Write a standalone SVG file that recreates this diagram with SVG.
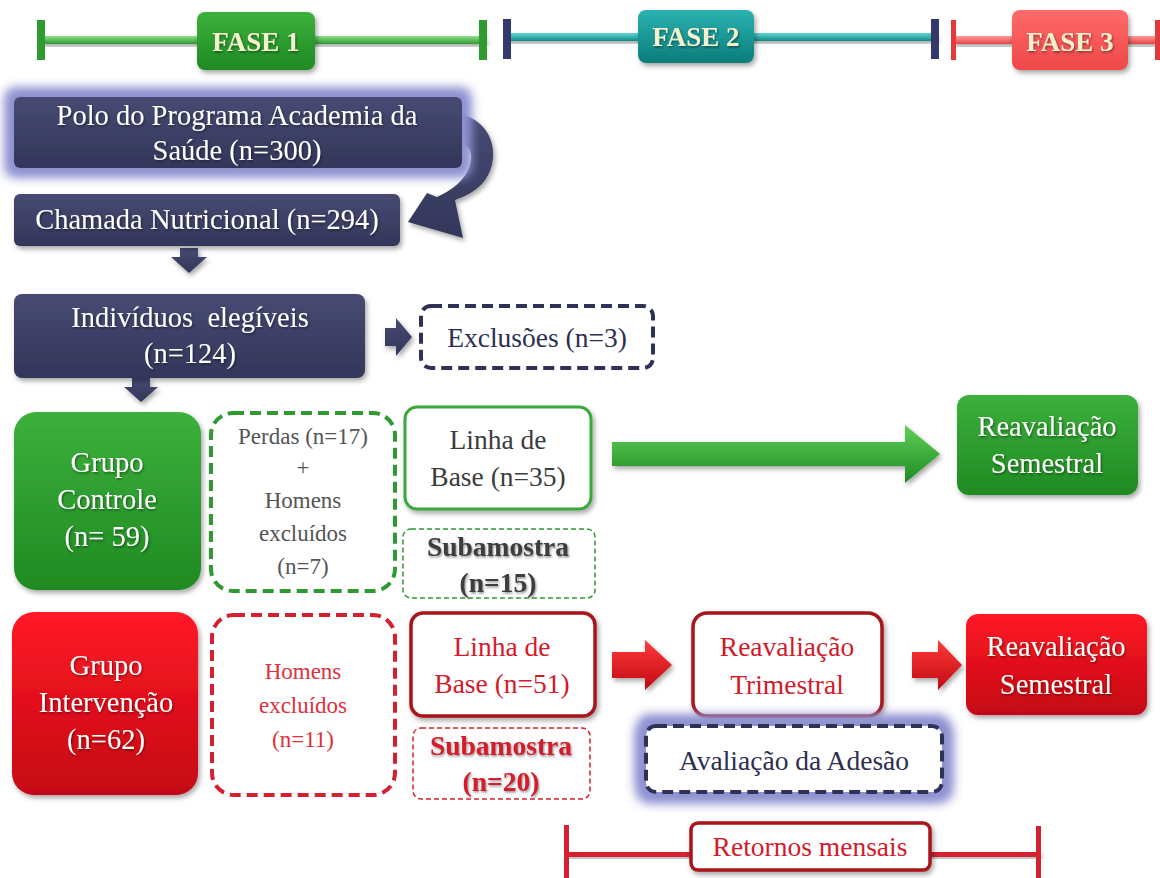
<svg xmlns="http://www.w3.org/2000/svg" width="1160" height="878" viewBox="0 0 1160 878">
<style>
text{font-family:"Liberation Serif","DejaVu Serif",serif;text-anchor:middle}
.w{fill:#ffffff;font-size:28.5px}
.ph{fill:#f4f1cf;font-size:27px;font-weight:bold}
.navytxt{fill:#2c2f52;font-size:27.5px}
.gray{fill:#555555;font-size:23px}
.dgray{fill:#3c3c3c;font-size:27.5px}
.redtxt{fill:#d41a2a;font-size:27.5px}
.redlt{fill:#e0303c;font-size:23px}
.sh{filter:url(#ds)}
</style>
<defs>
<filter id="ds" x="-20%" y="-20%" width="140%" height="150%"><feDropShadow dx="2" dy="3" stdDeviation="2.5" flood-color="#000" flood-opacity="0.35"/></filter>
<filter id="ts" x="-10%" y="-20%" width="120%" height="150%"><feDropShadow dx="1" dy="1.5" stdDeviation="1" flood-color="#000" flood-opacity="0.45"/></filter>
<filter id="glow" x="-20%" y="-50%" width="140%" height="200%"><feMorphology in="SourceAlpha" operator="dilate" radius="7" result="d"/><feGaussianBlur in="d" stdDeviation="6" result="b"/><feFlood flood-color="#8e91d0" flood-opacity="1"/><feComposite in2="b" operator="in" result="g"/><feMerge><feMergeNode in="g"/><feMergeNode in="g"/><feMergeNode in="SourceGraphic"/></feMerge></filter>
<linearGradient id="gNavy" x1="0" y1="0" x2="0" y2="1"><stop offset="0" stop-color="#474a73"/><stop offset="1" stop-color="#33365a"/></linearGradient>
<linearGradient id="gGreen" x1="0" y1="0" x2="0" y2="1"><stop offset="0" stop-color="#3cb03c"/><stop offset="1" stop-color="#1f8a22"/></linearGradient>
<linearGradient id="gRed" x1="0" y1="0" x2="0" y2="1"><stop offset="0" stop-color="#ff1a26"/><stop offset="1" stop-color="#c40612"/></linearGradient>
<linearGradient id="gTeal" x1="0" y1="0" x2="0" y2="1"><stop offset="0" stop-color="#2cb2b0"/><stop offset="1" stop-color="#0a7d7b"/></linearGradient>
<linearGradient id="gPink" x1="0" y1="0" x2="0" y2="1"><stop offset="0" stop-color="#ff6a6a"/><stop offset="1" stop-color="#f04848"/></linearGradient>
<linearGradient id="gGreenBar" x1="0" y1="0" x2="0" y2="1"><stop offset="0" stop-color="#8fe08a"/><stop offset="1" stop-color="#2e9a30"/></linearGradient>
<linearGradient id="gTealBar" x1="0" y1="0" x2="0" y2="1"><stop offset="0" stop-color="#5fd6d4"/><stop offset="1" stop-color="#0f8a88"/></linearGradient>
<linearGradient id="gRedBar" x1="0" y1="0" x2="0" y2="1"><stop offset="0" stop-color="#ff9a9a"/><stop offset="1" stop-color="#e84444"/></linearGradient>
<linearGradient id="gArrG" x1="0" y1="0" x2="0" y2="1"><stop offset="0" stop-color="#5fd05a"/><stop offset="1" stop-color="#1e8a20"/></linearGradient>
<linearGradient id="gArrR" x1="0" y1="0" x2="0" y2="1"><stop offset="0" stop-color="#ff3a3a"/><stop offset="1" stop-color="#c00a12"/></linearGradient>
</defs>
<rect width="1160" height="878" fill="#ffffff"/>

<!-- phase bars -->
<g id="fase1">
<rect x="40" y="36" width="445" height="8" fill="url(#gGreenBar)" class="sh"/>
<rect x="37" y="20" width="8" height="40" fill="#2e9a30"/>
<rect x="479" y="20" width="8" height="40" fill="#2e9a30"/>
<rect x="197" y="12" width="118" height="58" rx="8" fill="url(#gGreen)" class="sh"/>
<text x="256" y="51" class="ph" filter="url(#ts)">FASE 1</text>
</g>
<g id="fase2">
<rect x="506" y="33" width="430" height="8" fill="url(#gTealBar)" class="sh"/>
<rect x="503" y="19" width="8" height="40" fill="#35386a"/>
<rect x="931" y="19" width="8" height="40" fill="#35386a"/>
<rect x="638" y="10" width="116" height="53" rx="8" fill="url(#gTeal)" class="sh"/>
<text x="696" y="46" class="ph" filter="url(#ts)">FASE 2</text>
</g>
<g id="fase3">
<rect x="953" y="36" width="207" height="8" fill="url(#gRedBar)" class="sh"/>
<rect x="951" y="20" width="5" height="40" fill="#e03a3a"/>
<rect x="1155" y="20" width="5" height="40" fill="#e03a3a"/>
<rect x="1012" y="10" width="116" height="60" rx="8" fill="url(#gPink)" class="sh"/>
<text x="1070" y="51" class="ph" filter="url(#ts)">FASE 3</text>
</g>

<!-- connectors -->
<g id="connectors">
<path d="M 458 114 C 496 120, 502 162, 482 184 C 474 192, 466 196, 455 200 L 463 238 L 408 222 L 427 193 L 437 197 C 452 190, 466 180, 470 165 C 474 150, 468 144, 458 142 Z" fill="url(#gNavy)" class="sh"/>
<path d="M 180 248 L 198 248 L 198 257 L 207 257 L 189 273 L 171 257 L 180 257 Z" fill="url(#gNavy)" class="sh"/>
<path d="M 132 378 L 150 378 L 150 387 L 158 387 L 141 402 L 124 387 L 132 387 Z" fill="url(#gNavy)" class="sh"/>
<path d="M 385 328 L 396 328 L 396 318 L 412 337 L 396 356 L 396 346 L 385 346 Z" fill="url(#gNavy)" class="sh"/>
<path d="M 612 442 L 905 442 L 905 425 L 940 454 L 905 483 L 905 466 L 612 466 Z" fill="url(#gArrG)" class="sh"/>
<path d="M 612 652 L 645 652 L 645 640 L 672 665 L 645 690 L 645 678 L 612 678 Z" fill="url(#gArrR)" class="sh"/>
<path d="M 912 652 L 938 652 L 938 640 L 962 665 L 938 690 L 938 678 L 912 678 Z" fill="url(#gArrR)" class="sh"/>
</g>

<g id="polo">
<rect x="14" y="97" width="448" height="71" rx="6" fill="url(#gNavy)" filter="url(#glow)"/>
<text x="237" y="125" class="w" filter="url(#ts)">Polo do Programa Academia da</text>
<text x="237" y="160" class="w" filter="url(#ts)">Saúde (n=300)</text>
</g>
<g id="chamada">
<rect x="14" y="194" width="386" height="52" rx="6" fill="url(#gNavy)" class="sh"/>
<text x="207" y="229" class="w" filter="url(#ts)">Chamada Nutricional (n=294)</text>
</g>
<g id="elegiveis">
<rect x="14" y="294" width="351" height="84" rx="8" fill="url(#gNavy)" class="sh"/>
<text x="190" y="327" class="w" filter="url(#ts)" xml:space="preserve">Indivíduos  elegíveis</text>
<text x="190" y="363" class="w" filter="url(#ts)">(n=124)</text>
</g>
<g id="exclusoes">
<rect x="421" y="306" width="232" height="62" rx="10" fill="#ffffff" stroke="#2f3256" stroke-width="4" stroke-dasharray="11 6"/>
<text x="537" y="347" class="navytxt">Exclusões (n=3)</text>
</g>

<g id="grupoControle">
<rect x="14" y="412" width="187" height="178" rx="22" fill="url(#gGreen)" class="sh"/>
<text x="107" y="472" class="w" filter="url(#ts)">Grupo</text>
<text x="107" y="509" class="w" filter="url(#ts)">Controle</text>
<text x="107" y="546" class="w" filter="url(#ts)">(n= 59)</text>
</g>
<g id="perdas">
<rect x="211" y="413" width="184" height="178" rx="22" fill="#ffffff" stroke="#2e9a30" stroke-width="4" stroke-dasharray="11 6"/>
<text x="303" y="444" class="gray">Perdas (n=17)</text>
<text x="303" y="475" class="gray">+</text>
<text x="303" y="508" class="gray">Homens</text>
<text x="303" y="541" class="gray">excluídos</text>
<text x="303" y="574" class="gray">(n=7)</text>
</g>
<g id="linhaBase35">
<rect x="405" y="407" width="186" height="102" rx="12" fill="#ffffff" stroke="#3aa83a" stroke-width="3" class="sh"/>
<text x="498" y="449" class="dgray">Linha de</text>
<text x="498" y="486" class="dgray">Base (n=35)</text>
</g>
<g id="sub15">
<rect x="403" y="529" width="192" height="69" rx="8" fill="#ffffff" stroke="#2e9a30" stroke-width="1.5" stroke-dasharray="5 3"/>
<text x="498" y="556" class="dgray" font-weight="bold" filter="url(#ts)">Subamostra</text>
<text x="498" y="592" class="dgray" font-weight="bold" filter="url(#ts)">(n=15)</text>
</g>
<g id="reavSemG">
<rect x="957" y="395" width="181" height="100" rx="12" fill="url(#gGreen)" class="sh"/>
<text x="1047" y="436" class="w" filter="url(#ts)">Reavaliação</text>
<text x="1047" y="473" class="w" filter="url(#ts)">Semestral</text>
</g>

<g id="grupoIntervencao">
<rect x="12" y="612" width="186" height="183" rx="22" fill="url(#gRed)" class="sh"/>
<text x="106" y="675" class="w" filter="url(#ts)">Grupo</text>
<text x="106" y="712" class="w" filter="url(#ts)">Intervenção</text>
<text x="106" y="749" class="w" filter="url(#ts)">(n=62)</text>
</g>
<g id="homens11">
<rect x="212" y="615" width="183" height="180" rx="22" fill="#ffffff" stroke="#d42030" stroke-width="4" stroke-dasharray="11 6"/>
<text x="303" y="679" class="redlt">Homens</text>
<text x="303" y="713" class="redlt">excluídos</text>
<text x="303" y="747" class="redlt">(n=11)</text>
</g>
<g id="linhaBase51">
<rect x="411" y="613" width="184" height="103" rx="12" fill="#ffffff" stroke="#a8141e" stroke-width="3.5" class="sh"/>
<text x="502" y="656" class="redtxt">Linha de</text>
<text x="502" y="693" class="redtxt">Base (n=51)</text>
</g>
<g id="sub20">
<rect x="413" y="728" width="177" height="71" rx="8" fill="#ffffff" stroke="#d42030" stroke-width="1.5" stroke-dasharray="5 3"/>
<text x="501" y="755" class="redtxt" font-weight="bold" filter="url(#ts)">Subamostra</text>
<text x="501" y="791" class="redtxt" font-weight="bold" filter="url(#ts)">(n=20)</text>
</g>
<g id="reavTri">
<rect x="693" y="613" width="189" height="103" rx="14" fill="#ffffff" stroke="#a8141e" stroke-width="3.5" class="sh"/>
<text x="787" y="656" class="redtxt">Reavaliação</text>
<text x="787" y="694" class="redtxt">Trimestral</text>
</g>
<g id="reavSemR">
<rect x="966" y="614" width="181" height="101" rx="12" fill="url(#gRed)" class="sh"/>
<text x="1056" y="656" class="w" filter="url(#ts)">Reavaliação</text>
<text x="1056" y="694" class="w" filter="url(#ts)">Semestral</text>
</g>
<g id="adesao">
<rect x="646" y="726" width="296" height="66" rx="10" fill="#ffffff" stroke="#2f3256" stroke-width="4" stroke-dasharray="11 6" filter="url(#glow)"/>
<text x="794" y="770" class="navytxt">Avaliação da Adesão</text>
</g>
<g id="retornos">
<rect x="566" y="852" width="474" height="5" fill="#d42030" class="sh"/>
<rect x="564" y="825" width="5" height="53" fill="#d42030"/>
<rect x="1036" y="826" width="5" height="52" fill="#d42030"/>
<rect x="691" y="823" width="239" height="47" rx="7" fill="#ffffff" stroke="#a8141e" stroke-width="3.5" class="sh"/>
<text x="810" y="856" class="redtxt" font-size="26px">Retornos mensais</text>
</g>
</svg>
